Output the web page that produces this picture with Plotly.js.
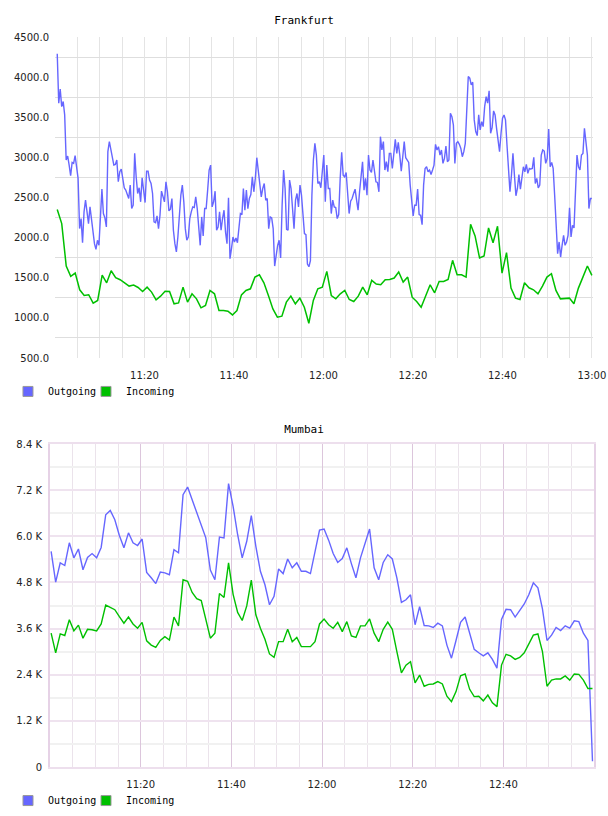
<!DOCTYPE html>
<html>
<head>
<meta charset="utf-8">
<script src="https://cdn.plot.ly/plotly-3.0.1.min.js"></script>
<style>
html,body{margin:0;padding:0;background:#fff;}
#top,#bottom{width:608px;height:408px;}
</style>
</head>
<body>
<div id="top"></div>
<div id="bottom"></div>
<script>
// ---------- Frankfurt ----------
const frankfurtTitle = 'Frankfurt';
const frankfurtOutgoing = [
4292,3675,3850,3633,3696,3529,2967,3017,2904,2771,2937,2925,3021,2904,2738,2113,2237,1937,2321,2467,2300,2175,2383,2217,2029,1925,1854,1967,1904,2237,2604,2300,2246,2133,3071,3196,3092,3008,2904,2912,2967,2696,2821,2854,2738,2621,2592,2550,2487,2654,2362,2404,3050,2758,2550,2621,2446,2746,2571,2437,2829,2829,2717,2675,2550,2196,2187,2271,2112,2279,2579,2508,2446,2696,2571,2333,2354,2487,2092,1925,1821,2008,2321,2529,2654,2446,2112,1967,2008,
2237,2321,2383,2375,2508,2362,2112,1904,2258,2021,2362,2362,2592,2842,2904,2383,2446,2579,2092,2133,2321,2092,2237,2342,2071,1925,2496,1737,1862,2008,1946,1996,1937,2112,2300,2287,2612,2342,2592,2362,2487,2537,2758,2571,2738,2996,2842,2738,2508,2612,2675,2467,2487,2112,2258,2246,2112,1646,1779,1904,1967,1746,2404,2842,2612,2104,2092,2717,2612,2321,2112,2467,2550,2383,2654,2529,2321,2050,2037,1671,1637,1712,2529,2967,3175,3029,2675,2696,2621,2883,
3029,2446,2904,2612,2612,2300,2467,2383,2375,2237,2287,2738,3062,2779,2758,2812,2550,2300,2454,2487,2550,2604,2467,2342,2571,2787,2946,2592,2738,2529,3029,2842,2812,2967,2800,2696,2687,2571,3258,3092,3196,2842,2946,2821,3050,3050,2862,3029,3225,3050,3187,3029,2829,3008,3196,2996,2967,2937,2654,2446,2271,2404,2404,2604,2287,2279,2162,2654,2862,2883,2821,2842,2787,2842,2904,3162,3092,3133,3029,3092,2925,2987,3142,2946,2967,3550,3508,3404,2925,3175,
3196,3162,3112,3008,3071,3175,3529,4008,3987,3904,3937,3467,3321,3271,3529,3342,3446,3383,3633,3758,3675,3829,3300,3371,3579,3529,3362,3175,3071,3300,3487,3529,3467,3154,2904,2571,2779,3050,2779,2521,2612,2787,2604,2787,2883,2821,2912,2800,2862,2854,2862,3000,2675,2738,2621,2654,3029,3092,3079,2925,2987,3354,2883,2937,2862,2529,2092,1800,1946,1758,1904,2029,1904,1946,2029,2371,2008,2154,2121,2654,3029,2883,2842,3029,3050,3362,3217,3029,2362,2487,2487
];
const frankfurtIncoming = [
2350,2175,1646,1517,1558,1350,1279,1288,1183,1217,1533,1437,1587,1500,1475,1437,1396,1408,1379,1329,1383,1321,1225,1271,1333,1329,1175,1187,1383,1196,
1300,1237,1125,1154,1342,1300,1092,1092,1083,1037,1092,1287,1342,1362,1508,1537,1437,1279,1112,1008,1021,1196,1271,1175,1246,1133,933,1217,1362,1383,
1579,1279,1237,1300,1342,1229,1204,1271,1383,1287,1467,1421,1412,1475,1479,1496,1571,1446,1508,1258,1204,1133,1279,1412,1312,1454,1454,1479,1717,1537,
1537,1508,2167,2021,1746,1771,2121,1937,2142,1558,1812,1371,1246,1229,1437,1375,1350,1300,1396,1508,1550,1342,1237,1237,1246,1175,1371,1508,1646,1529
];
const frankfurtYTicks = [500,1000,1500,2000,2500,3000,3500,4000,4500];

// ---------- Mumbai (values in K) ----------
const mumbaiTitle = 'Mumbai';
const mumbaiOutgoing = [
5.61,4.81,5.31,5.24,5.83,5.44,5.67,5.13,5.45,5.55,5.44,5.71,6.56,6.67,6.43,6.02,5.70,6.09,5.83,5.76,5.93,5.06,4.92,4.77,5.07,5.05,5.00,5.65,5.57,7.08,7.28,6.95,6.61,6.30,5.96,5.12,4.87,5.98,5.96,7.37,6.78,6.04,5.44,5.87,6.54,5.74,5.09,4.74,4.22,4.44,5.15,5.03,5.41,5.18,5.31,5.09,
5.09,5.03,5.61,6.16,6.19,5.90,5.55,5.32,5.42,5.70,5.29,4.92,5.44,5.83,6.19,5.18,4.87,5.32,5.52,5.41,4.92,4.28,4.35,4.48,3.70,4.17,3.68,3.67,3.63,3.74,3.67,3.17,2.83,3.29,3.76,3.90,3.48,3.06,2.97,2.89,2.97,2.80,2.57,3.84,4.10,4.09,3.90,4.07,4.24,4.48,4.79,4.66,4.11,3.29,3.43,3.63,3.55,3.67,3.61,3.80,3.78,3.48,3.29,0.15
];
const mumbaiIncoming = [
3.48,2.97,3.46,3.42,3.83,3.54,3.69,3.35,3.58,3.57,3.54,3.72,4.21,4.16,4.09,3.91,3.74,3.90,3.72,3.61,3.76,3.28,3.17,3.11,3.29,3.39,3.30,3.90,3.67,4.87,4.83,4.54,4.38,4.33,3.85,3.35,3.48,4.51,4.41,5.31,4.49,4.02,3.81,4.19,4.86,3.96,3.61,3.32,2.94,2.85,3.26,3.26,3.58,3.26,3.37,3.13,
3.13,3.13,3.26,3.72,3.85,3.70,3.61,3.76,3.52,3.78,3.41,3.37,3.67,3.67,3.85,3.48,3.26,3.58,3.77,3.58,3.00,2.45,2.65,2.74,2.19,2.39,2.10,2.15,2.16,2.22,2.16,1.84,1.70,1.96,2.37,2.42,2.02,1.83,1.84,1.72,1.87,1.67,1.57,2.65,2.93,2.89,2.80,2.85,2.97,3.20,3.43,3.46,3.00,2.10,2.26,2.29,2.29,2.37,2.26,2.42,2.41,2.26,2.04,2.04
];
const mumbaiYTickVals = [0,1.2,2.4,3.6,4.8,6.0,7.2,8.4];
const mumbaiYTickText = ['0','1.2 K','2.4 K','3.6 K','4.8 K','6.0 K','7.2 K','8.4 K'];

const seriesNames = ['Outgoing','Incoming'];
const seriesColors = ['#6666ff','#00c000'];
const xTickLabels = ['11:20','11:40','12:00','12:20','12:40','13:00'];

// ---------- helpers ----------
const MIN = 60000;
const base = Date.UTC(2024,0,1,11,0,0);
function hm(s){ const p=s.split(':'); return Date.UTC(2024,0,1,+p[0],+p[1],0); }
function sampleTimes(startMs, endMs, n){
  const out=[]; const step=(endMs-startMs)/(n-1);
  for(let i=0;i<n;i++) out.push(startMs+i*step);
  return out;
}
const tickFont = {family:'DejaVu Sans', size:10, color:'#222'};
const monoFont = {family:'DejaVu Sans Mono', size:10, color:'#000'};
const legendIds = ['legend','legend2'];

function legendTraces(){
  return seriesNames.map((n,i)=>({
    x:[null], y:[null], type:'scatter', mode:'markers', name:n, legend:legendIds[i],
    showlegend:true, hoverinfo:'skip',
    marker:{symbol:'square', size:10, color:seriesColors[i], line:{color:'#999', width:1}}
  }));
}
function legendBox(xPaper){
  return {orientation:'h', x:xPaper, xanchor:'left', y:-0.059, yanchor:'top', font:monoFont,
          bgcolor:'rgba(0,0,0,0)', borderwidth:0, itemclick:false, itemdoubleclick:false};
}

// ---------- Top chart ----------
const fStart = base + 30*1000, fEnd = base + 120*MIN;
const topData = [
  {x:sampleTimes(fStart,fEnd,frankfurtOutgoing.length), y:frankfurtOutgoing, type:'scatter', mode:'lines',
   name:seriesNames[0], showlegend:false, line:{color:seriesColors[0], width:1.4}},
  {x:sampleTimes(fStart,fEnd,frankfurtIncoming.length), y:frankfurtIncoming, type:'scatter', mode:'lines',
   name:seriesNames[1], showlegend:false, line:{color:seriesColors[1], width:1.5}},
  ...legendTraces()
];
const topLayout = {
  width:608, height:408,
  margin:{l:55, r:15, t:37, b:50, autoexpand:false},
  paper_bgcolor:'#fff', plot_bgcolor:'#fff',
  title:{text:frankfurtTitle, font:{family:'DejaVu Sans Mono', size:11, color:'#000'},
         x:0.5, xref:'container', xanchor:'center', y:1-20/408, yref:'container', yanchor:'middle'},
  xaxis:{type:'date', range:[base, base+120*MIN+15000],
         tickmode:'array', tickvals:xTickLabels.map(hm), ticktext:xTickLabels,
         showgrid:true, gridcolor:'#e4e4e4', gridwidth:1,
         minor:{tickmode:'linear', tick0:base, dtick:5*MIN, showgrid:true, gridcolor:'#e4e4e4', gridwidth:1, ticks:''},
         ticks:'outside', ticklen:8, tickcolor:'rgba(0,0,0,0)', zeroline:false, showline:false, tickfont:tickFont, fixedrange:true},
  yaxis:{range:[500,4500], tickmode:'array', tickvals:frankfurtYTicks, ticktext:frankfurtYTicks.map(v=>v.toFixed(1)),
         showgrid:false,
         minor:{tickmode:'linear', tick0:750, dtick:500, showgrid:true, gridcolor:'#dedede', gridwidth:1, ticks:''},
         ticks:'outside', ticklen:3, tickcolor:'rgba(0,0,0,0)', zeroline:false, showline:false, tickfont:tickFont, fixedrange:true},
  showlegend:true,
  legend:legendBox(-0.0874),
  legend2:legendBox(0.0576)
};

// ---------- Bottom chart ----------
const mStart = base + 15*1000, mEnd = base + 119*MIN + 40000;
const mumbaiMajorX = ['11:00','11:20','11:40','12:00','12:20','12:40','13:00'];
const bottomData = [
  {x:sampleTimes(mStart,mEnd,mumbaiOutgoing.length), y:mumbaiOutgoing, type:'scatter', mode:'lines',
   name:seriesNames[0], showlegend:false, line:{color:seriesColors[0], width:1.4}},
  {x:sampleTimes(mStart,mEnd,mumbaiIncoming.length), y:mumbaiIncoming, type:'scatter', mode:'lines',
   name:seriesNames[1], showlegend:false, line:{color:seriesColors[1], width:1.4}},
  ...legendTraces()
];
const bottomLayout = {
  width:608, height:408,
  margin:{l:50, r:14, t:36, b:49, autoexpand:false},
  paper_bgcolor:'#fff', plot_bgcolor:'#fff',
  title:{text:mumbaiTitle, font:{family:'DejaVu Sans Mono', size:11, color:'#000'},
         x:0.5, xref:'container', xanchor:'center', y:1-21/408, yref:'container', yanchor:'middle'},
  xaxis:{type:'date', range:[base, base+120*MIN],
         tickmode:'array', tickvals:mumbaiMajorX.map(hm),
         ticktext:mumbaiMajorX.map(s=> (xTickLabels.indexOf(s)>=0 && s!=='13:00') ? s : ''),
         showgrid:true, gridcolor:'#dcc6dc', gridwidth:1,
         minor:{tickmode:'linear', tick0:base, dtick:5*MIN, showgrid:true, gridcolor:'#ebe3eb', gridwidth:1, ticks:''},
         ticks:'outside', ticklen:7, tickcolor:'rgba(0,0,0,0)', zeroline:false, showline:true, mirror:true, linecolor:'#eddfed', linewidth:2,
         tickfont:tickFont, fixedrange:true},
  yaxis:{range:[0,8.4], tickmode:'array', tickvals:mumbaiYTickVals, ticktext:mumbaiYTickText,
         showgrid:true, gridcolor:'#efe3ef', gridwidth:2,
         minor:{tickmode:'linear', tick0:0.6, dtick:1.2, showgrid:true, gridcolor:'#f1f1f1', gridwidth:2, ticks:''},
         ticks:'outside', ticklen:4, tickcolor:'rgba(0,0,0,0)', zeroline:false, showline:true, mirror:true,
         linecolor:'#e6d2e6', linewidth:2, tickfont:tickFont, fixedrange:true},
  showlegend:true,
  legend:legendBox(-0.0772),
  legend2:legendBox(0.0662)
};

const cfg = {staticPlot:true, displayModeBar:false};
Plotly.newPlot('top', topData, topLayout, cfg);
Plotly.newPlot('bottom', bottomData, bottomLayout, cfg);
</script>
</body>
</html>
